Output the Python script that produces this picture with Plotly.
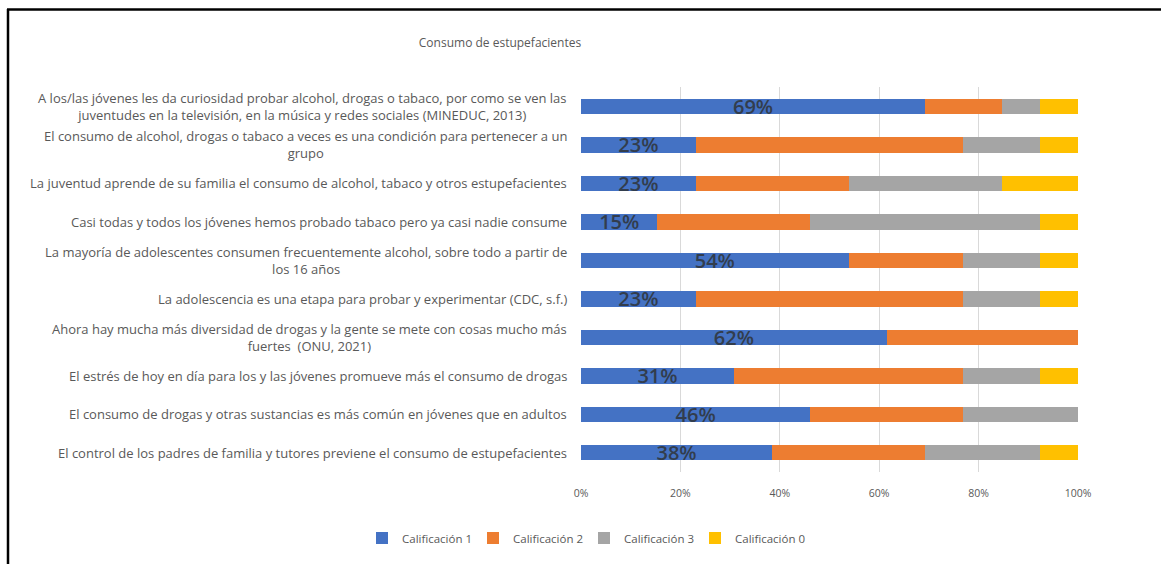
import plotly.graph_objects as go

categories = [
    "A los/las jóvenes les da curiosidad probar alcohol, drogas o tabaco, por como se ven las<br>juventudes en la televisión, en la música y redes sociales (MINEDUC, 2013)",
    "El consumo de alcohol, drogas o tabaco a veces es una condición para pertenecer a un<br>grupo",
    "La juventud aprende de su familia el consumo de alcohol, tabaco y otros estupefacientes",
    "Casi todas y todos los jóvenes hemos probado tabaco pero ya casi nadie consume",
    "La mayoría de adolescentes consumen frecuentemente alcohol, sobre todo a partir de<br>los 16 años",
    "La adolescencia es una etapa para probar y experimentar (CDC, s.f.)",
    "Ahora hay mucha más diversidad de drogas y la gente se mete con cosas mucho más<br>fuertes  (ONU, 2021)",
    "El estrés de hoy en día para los y las jóvenes promueve más el consumo de drogas",
    "El consumo de drogas y otras sustancias es más común en jóvenes que en adultos",
    "El control de los padres de familia y tutores previene el consumo de estupefacientes",
]

calif_1 = [69.23, 23.08, 23.08, 15.38, 53.85, 23.08, 61.54, 30.77, 46.15, 38.46]
calif_2 = [15.38, 53.85, 30.77, 30.77, 23.08, 53.85, 38.46, 46.15, 30.77, 30.77]
calif_3 = [7.69, 15.38, 30.77, 46.15, 15.38, 15.38, 0.0, 15.38, 23.08, 23.08]
calif_0 = [7.69, 7.69, 15.38, 7.69, 7.69, 7.69, 0.0, 7.69, 0.0, 7.69]

series_names = ["Calificación 1", "Calificación 2", "Calificación 3", "Calificación 0"]
series_values = [calif_1, calif_2, calif_3, calif_0]
colors = ["#4472C4", "#ED7D31", "#A5A5A5", "#FFC000"]

tick_vals = [0, 20, 40, 60, 80, 100]
tick_text = ["0%", "20%", "40%", "60%", "80%", "100%"]

FONT = "Open Sans"
GRAY_TXT = "#595959"

fig = go.Figure()
for i, (name, vals, col) in enumerate(zip(series_names, series_values, colors)):
    kw = {}
    if i == 0:
        kw = dict(
            text=[f"{v:.0f}%" for v in vals],
            textposition="inside",
            insidetextanchor="middle",
            textfont=dict(size=20, color="#323d4d", family=FONT, weight=600),
            constraintext="none",
        )
    fig.add_trace(go.Bar(
        y=categories, x=vals, name=name, orientation="h",
        marker=dict(color=col, line=dict(width=0)),
        hoverinfo="skip", **kw,
    ))

# category labels as centered multi-line annotations
for c in categories:
    fig.add_annotation(
        x=0, xref="paper", y=c, yref="y", xanchor="right", yanchor="middle",
        xshift=-12, text=c, showarrow=False, align="center",
        font=dict(size=13, color=GRAY_TXT, family=FONT),
    )

W, H = 1161, 564
L, R, T, B = 581, 83, 87, 92
pw, ph = W - L - R, H - T - B

def px_x(p):
    return (p - L) / pw

def px_y(p):
    return (H - B - p) / ph

# outer black frame (top and left edges)
fig.add_shape(type="line", xref="paper", yref="paper",
              x0=px_x(7), x1=px_x(1170), y0=px_y(9.5), y1=px_y(9.5),
              line=dict(color="#000000", width=2.5), layer="above")
fig.add_shape(type="line", xref="paper", yref="paper",
              x0=px_x(8), x1=px_x(8), y0=px_y(9), y1=px_y(570),
              line=dict(color="#000000", width=2.5), layer="above")

fig.update_layout(
    width=W, height=H,
    barmode="stack", bargap=0.6,
    paper_bgcolor="white", plot_bgcolor="white",
    margin=dict(l=L, r=R, t=T, b=B, autoexpand=False),
    title=dict(text="Consumo de estupefacientes", x=500 / W, xanchor="center",
               y=1 - 43 / H, yanchor="middle", xref="container", yref="container",
               font=dict(size=12, color=GRAY_TXT, family=FONT)),
    xaxis=dict(range=[0, 100], tickvals=tick_vals, ticktext=tick_text,
               showgrid=True, gridcolor="#D9D9D9", gridwidth=1, zeroline=False,
               showline=False, ticks="", ticklabelstandoff=13,
               tickfont=dict(size=10.5, color=GRAY_TXT, family=FONT)),
    yaxis=dict(autorange="reversed", showticklabels=False, showgrid=False,
               zeroline=False, showline=False, ticks=""),
    uniformtext=dict(minsize=20, mode="show"),
    legend=dict(orientation="h", x=362 / W, xanchor="left", xref="container",
                y=1 - 538 / H, yanchor="middle", yref="container",
                font=dict(size=11.5, color=GRAY_TXT, family=FONT),
                itemwidth=30, traceorder="normal",
                entrywidth=66, entrywidthmode="pixels"),
    showlegend=True,
)

fig.write_html("out.html", config={"displayModeBar": False},
               post_script="document.body.style.margin='0px';")
